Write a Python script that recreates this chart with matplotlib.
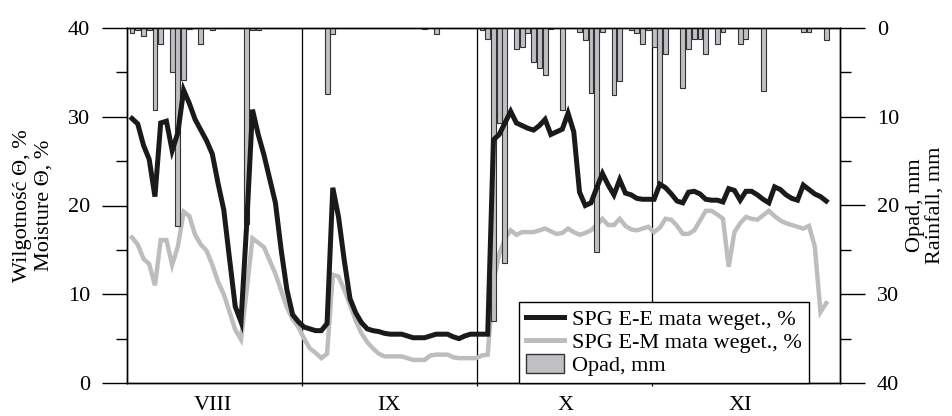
import matplotlib
matplotlib.use("Agg")
import matplotlib.pyplot as plt
from matplotlib.ticker import MultipleLocator, FixedLocator, NullFormatter, FixedFormatter
from matplotlib.lines import Line2D
from matplotlib.patches import Patch

plt.rcParams['font.family'] = ['Liberation Serif', 'DejaVu Serif']

# day index (daily measurements, Aug -> Nov)
day = list(range(122))

# SPG E-E mata weget., %
ee = [29.8, 29.2, 26.8, 25.2, 21.0, 29.3, 29.5, 26.2, 28.2, 33.0,
      31.5, 29.7, 28.5, 27.3, 25.8, 22.5, 19.5, 14.0, 8.6, 6.9,
      18.0, 30.8, 28.0, 25.7, 23.0, 20.3, 15.0, 10.5, 7.7, 6.9,
      6.3, 6.1, 5.9, 5.9, 6.7, 22.0, 18.7, 13.8, 9.5, 7.9,
      6.8, 6.1, 5.9, 5.8, 5.6, 5.5, 5.5, 5.5, 5.3, 5.1,
      5.1, 5.1, 5.3, 5.5, 5.5, 5.5, 5.2, 5.0, 5.3, 5.5,
      5.5, 5.5, 5.5, 27.4, 28.0, 29.3, 30.6, 29.3, 29.0, 28.7,
      28.5, 29.0, 29.7, 28.0, 28.3, 28.6, 30.4, 28.3, 21.5, 20.0,
      20.3, 22.0, 23.6, 22.3, 21.2, 22.9, 21.4, 21.2, 20.8, 20.7,
      20.7, 20.7, 22.4, 22.0, 21.3, 20.5, 20.3, 21.5, 21.6, 21.3,
      20.7, 20.6, 20.6, 20.4, 21.9, 21.7, 20.6, 21.6, 21.6, 21.2,
      20.7, 20.3, 22.1, 21.8, 21.2, 20.8, 20.6, 22.3, 21.8, 21.3,
      21.0, 20.5]

# SPG E-M mata weget., %
em = [16.4, 15.6, 14.0, 13.4, 11.0, 16.1, 16.1, 13.3, 15.4, 19.3,
      18.8, 16.7, 15.6, 14.9, 13.3, 11.4, 10.0, 8.0, 6.0, 4.9,
      10.5, 16.3, 15.8, 15.3, 13.8, 12.3, 10.4, 8.5, 7.2, 6.3,
      5.0, 3.9, 3.4, 2.8, 3.3, 12.2, 12.0, 10.5, 8.8, 7.0,
      5.6, 4.6, 3.9, 3.3, 3.0, 3.0, 3.0, 3.0, 2.8, 2.6,
      2.6, 2.6, 3.1, 3.2, 3.2, 3.2, 2.9, 2.8, 2.8, 2.8,
      2.8, 3.1, 3.2, 11.5, 14.5, 16.3, 17.2, 16.7, 17.0, 17.0,
      17.0, 17.2, 17.4, 17.1, 16.8, 16.9, 17.4, 17.0, 16.7, 16.9,
      17.2, 17.8, 18.5, 17.8, 17.8, 18.5, 17.7, 17.3, 17.2, 17.4,
      17.6, 17.0, 17.5, 18.5, 18.4, 17.7, 16.8, 16.8, 17.2, 18.3,
      19.4, 19.4, 19.0, 18.5, 13.1, 17.0, 18.0, 18.7, 18.5, 18.4,
      18.9, 19.4, 18.8, 18.3, 18.0, 17.8, 17.6, 17.4, 17.7, 15.4,
      8.0, 9.0]

# Opad, mm (rainfall days and amounts)
rain_day = [0, 1, 2, 3, 4, 5, 7, 8, 9, 10, 12, 14, 20, 21, 22,
            34, 35, 51, 53, 61, 62, 63, 64, 65, 67, 68, 69, 70, 71, 72,
            73, 75, 78, 79, 80, 81, 82, 84, 85, 87, 88, 89, 90, 91, 92,
            93, 96, 97, 98, 99, 100, 102, 103, 106, 107, 110, 117, 118, 121]
rain_mm = [0.6, 0.2, 0.9, 0.2, 9.2, 1.8, 5.0, 22.3, 5.9, 0.15, 1.8, 0.2, 22.1, 0.2, 0.2,
           7.4, 0.7, 0.15, 0.7, 0.2, 1.2, 33.0, 10.7, 26.5, 2.4, 2.1, 0.6, 3.8, 4.5, 5.3,
           0.15, 9.2, 0.4, 1.35, 7.3, 25.2, 0.4, 7.5, 6.0, 0.2, 0.6, 1.8, 0.2, 2.1, 17.5,
           2.9, 6.8, 2.4, 1.2, 1.2, 2.9, 1.8, 0.4, 1.8, 1.2, 7.1, 0.4, 0.4, 1.4]

month_labels = ["VIII", "IX", "X", "XI"]
month_edges = [29.6, 60.1, 90.6]
month_mid = [14.1, 44.8, 75.5, 106.0]

legend_labels = ["SPG E-E mata weget., %", "SPG E-M mata weget., %", "Opad, mm"]

BLACK = '#1a1a1a'
GRAY = '#bdbdbd'
BARC = '#c0c0c4'
FS = 16

fig = plt.figure(figsize=(9.52, 4.16), dpi=100)
ax = fig.add_axes([127 / 952, 1 - 383 / 416, 713 / 952, 355 / 416])
ax2 = ax.twinx()

ax.set_xlim(-0.87, 123.4)
ax.set_ylim(0, 40)

# month separators
ax.vlines(month_edges, -0.35, 40, colors='black', linewidth=0.9, clip_on=False, zorder=1)

ax.plot(day, em, color=GRAY, lw=3.2, zorder=2, solid_joinstyle='miter')
ax2.bar(rain_day, rain_mm, width=0.85, color=BARC, edgecolor='#333333', linewidth=0.8, zorder=2)
ax2.plot(day, ee, color=BLACK, lw=3.6, transform=ax.transData, zorder=3, solid_joinstyle='miter')
ax2.set_xlim(-0.87, 123.4)
ax2.set_ylim(40, 0)

# y ticks
for a in (ax, ax2):
    a.yaxis.set_major_locator(MultipleLocator(10))
    a.yaxis.set_minor_locator(MultipleLocator(5))
    a.tick_params(axis='y', which='major', direction='out', length=18, width=1.0, pad=8.5, labelsize=FS)
    a.tick_params(axis='y', which='minor', direction='out', length=8, width=1.0)
    for s in a.spines.values():
        s.set_linewidth(1.0)
        s.set_color('black')
ax.tick_params(axis='y', which='both', right=False, left=True)
ax2.tick_params(axis='y', which='both', right=True, left=False)

# x ticks: month labels centred
ax.xaxis.set_major_locator(FixedLocator(month_edges))
ax.xaxis.set_major_formatter(NullFormatter())
ax.xaxis.set_minor_locator(FixedLocator(month_mid))
ax.xaxis.set_minor_formatter(FixedFormatter(month_labels))
ax.tick_params(axis='x', which='major', length=0)
ax.tick_params(axis='x', which='minor', length=0, pad=9, labelsize=FS)
ax2.tick_params(axis='x', which='both', length=0)

ax.set_ylabel("Wilgotność Θ, %\nMoisture Θ, %", fontsize=FS, linespacing=1.15)
ax.yaxis.set_label_coords(-0.103, 0.5)
ax2.set_ylabel("Opad, mm\nRainfall, mm", fontsize=FS, linespacing=1.15)
ax2.yaxis.set_label_coords(1.092, 0.5)

handles = [Line2D([], [], color=BLACK, lw=3.6),
           Line2D([], [], color=GRAY, lw=3.6),
           Patch(facecolor=BARC, edgecolor='#333333', linewidth=1.0)]
leg = ax2.legend(handles, legend_labels, loc='lower left', bbox_to_anchor=(0.55, 0.0),
                 borderaxespad=0, frameon=True, fancybox=False, edgecolor='black',
                 framealpha=1, fontsize=FS, handlelength=1.7, handletextpad=0.4,
                 labelspacing=0.05, borderpad=0.3, handleheight=0.9)
leg.get_frame().set_linewidth(1.0)
leg.set_zorder(10)

fig.savefig("out.png", dpi=100)
